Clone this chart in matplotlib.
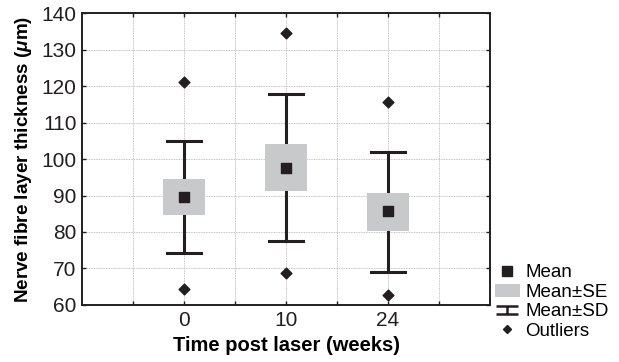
import numpy as np
import matplotlib
matplotlib.use("Agg")
import matplotlib.pyplot as plt
from matplotlib.lines import Line2D
from matplotlib.patches import Patch
from matplotlib.path import Path

# data
groups = ["0", "10", "24"]
means = [89.7, 97.6, 85.8]
se_low = [84.7, 91.2, 80.4]
se_high = [94.5, 104.0, 90.8]
sd_low = [74.2, 77.5, 69.1]
sd_high = [105.0, 117.7, 102.0]
out_low = [64.5, 68.7, 62.8]
out_high = [121.1, 134.6, 115.7]

positions = np.array([2, 4, 6])
box_w = 0.82
cap_w = 0.65

plt.rcParams["font.family"] = ["Liberation Sans", "DejaVu Sans"]
plt.rcParams["mathtext.fontset"] = "custom"
plt.rcParams["mathtext.it"] = "Liberation Sans:italic:bold"

fig = plt.figure(figsize=(6.19, 3.62), dpi=100)
ax = fig.add_axes([0.1325, 0.1575, 0.6591, 0.8065])

gray = "#c8c9cb"
dark = "#231f20"

for i, x in enumerate(positions):
    # SD whisker with caps
    ax.plot([x, x], [sd_low[i], sd_high[i]], color=dark, lw=2.2, zorder=2)
    for yv in (sd_low[i], sd_high[i]):
        ax.plot([x - cap_w / 2, x + cap_w / 2], [yv, yv], color=dark, lw=2.2, zorder=2)
    # SE box
    ax.bar(x, se_high[i] - se_low[i], bottom=se_low[i], width=box_w,
           color=gray, edgecolor="none", zorder=3)

ax.scatter(positions, means, marker="s", s=50, color=dark, zorder=4)
ax.scatter(np.concatenate([positions, positions]), out_low + out_high,
           marker="D", s=30, color=dark, zorder=4)

ax.set_xlim(0, 8)
ax.set_ylim(60, 140)
ax.set_xticks(np.arange(1, 8))
ax.set_xticklabels(["", groups[0], "", groups[1], "", groups[2], ""])
ax.set_yticks(np.arange(60, 141, 10))
ax.grid(True, color="#b0b0b0", linestyle=(0, (1, 1)), lw=0.6)
ax.set_axisbelow(True)
ax.tick_params(direction="in", length=3, width=1, top=True, right=True,
               labelsize=15, colors=dark, pad=4)
for s in ax.spines.values():
    s.set_linewidth(1.4)
    s.set_color(dark)

ax.set_xlabel("Time post laser (weeks)", fontsize=14.5, fontweight="bold", labelpad=5)
ax.set_ylabel(r"Nerve fibre layer thickness ($\mu$m)", fontsize=13.6,
              fontweight="bold", labelpad=5)

ibeam = Path([(-1, 0.38), (1, 0.38), (0, 0.38), (0, -0.38), (-1, -0.38), (1, -0.38)],
             [Path.MOVETO, Path.LINETO, Path.MOVETO, Path.LINETO, Path.MOVETO, Path.LINETO])
handles = [
    Line2D([], [], marker="s", color=dark, ls="none", markersize=7),
    Patch(facecolor=gray, edgecolor="none"),
    Line2D([], [], marker=ibeam, color=dark, ls="none", markersize=16,
           markeredgewidth=1.8, fillstyle="none"),
    Line2D([], [], marker="D", color=dark, ls="none", markersize=4.5),
]
labels = ["Mean", "Mean±SE", "Mean±SD", "Outliers"]
fig.legend(handles, labels, loc="lower left", bbox_to_anchor=(0.80, 0.062),
           frameon=False, fontsize=13.5, handlelength=1.3, handletextpad=0.3,
           labelspacing=0.12, borderpad=0, borderaxespad=0)

fig.savefig("out.png", dpi=100)
